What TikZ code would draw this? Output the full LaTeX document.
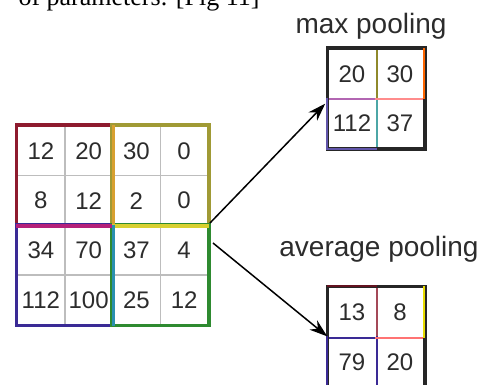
\documentclass[tikz,border=0pt]{standalone}
\usepackage{fontspec}
\setmainfont{Liberation Serif}
\newfontfamily\arialfont{Liberation Sans}
\usetikzlibrary{arrows.meta}

\definecolor{gridgray}{HTML}{BDBDBD}
\definecolor{numgray}{HTML}{2C2C2C}
\definecolor{tlred}{HTML}{8E1B2E}
\definecolor{tryellow}{HTML}{A09A35}
\definecolor{blblue}{HTML}{3A2A95}
\definecolor{brgreen}{HTML}{2E8A30}
\definecolor{mixmag}{HTML}{B5207A}
\definecolor{mixgold}{HTML}{D8A030}
\definecolor{mixlime}{HTML}{D8D030}
\definecolor{mixteal}{HTML}{2A8FB0}

\begin{document}
\begin{tikzpicture}[x=1pt, y=-1pt]

      \tikzset{cell/.style = {shape=rectangle,draw=gridgray,line width=1.5pt,minimum width=47.75pt,minimum height=49.75pt,inner sep=0pt,text=numgray,font=\arialfont\fontsize{24}{24}\selectfont}}
      \tikzset{pcell/.style = {cell,draw=none,minimum width=48pt}}
      \tikzset{quad/.style = {line width=3.5pt}}
      \tikzset{seg/.style = {line width=1.8pt}}
      \tikzset{edge/.style = {-{Stealth[length=18pt,width=12pt]},line width=1.5pt}}
      \tikzset{title/.style = {font=\arialfont\fontsize{28}{28}\selectfont,text=numgray,anchor=base}}
      \useasboundingbox (0,0) rectangle (491,385);

      % caption fragment
      \node[anchor=base west,font=\fontsize{26}{26}\selectfont] (caption) at (15,6) {of parameters. [Fig 11]};

      % input grid
      \foreach \r/\vals in {1/{12,20,30,0},2/{8,12,2,0},3/{34,70,37,4},4/{112,100,25,12}} {
        \foreach \v [count=\c] in \vals {
          \node[cell] (in\r\c) at ({17+47.75*(\c-0.5)},{126+49.75*(\r-0.5)}) {\v};
        }
      }
      \draw[quad,tlred]   (in11.north west) rectangle (in22.south east);
      \draw[quad,tryellow] (in13.north west) rectangle (in24.south east);
      \draw[quad,blblue]  (in31.north west) rectangle (in42.south east);
      \draw[quad,brgreen] (in33.north west) rectangle (in44.south east);
      \draw[quad,mixgold] (in12.north east) -- (in22.south east);
      \draw[quad,mixmag]  (in21.south west) -- (in22.south east);
      \draw[quad,mixlime] (in23.south west) -- (in24.south east);
      \draw[quad,mixteal] (in32.north east) -- (in42.south east);

      % max pooling
      \node[title] (maxlabel) at (371,34) {max pooling};
      \node[pcell] (mx11) at (352,73.75)  {20};
      \node[pcell] (mx12) at (400,73.75)  {30};
      \node[pcell] (mx21) at (352,123.25) {112};
      \node[pcell] (mx22) at (400,123.25) {37};
      \draw[seg,olive!70!gray]  (mx11.north east) -- (mx11.south east);
      \draw[seg,teal!70]        (mx21.north east) -- (mx21.south east);
      \draw[seg,violet!60]      (mx11.south west) -- (mx11.south east);
      \draw[seg,red!45]         (mx12.south west) -- (mx12.south east);
      \draw[quad,black!85]      (mx11.north west) rectangle (mx22.south east);
      \draw[seg,blblue!80]      (mx21.north west) -- (mx21.south west) -- (mx21.south east);
      \draw[seg,orange!80!red]  ([xshift=-1pt]mx12.north east) -- ([xshift=-1pt]mx12.south east);

      % average pooling
      \node[title] (avglabel) at (379,257) {average pooling};
      \node[pcell] (av11) at (352,312) {13};
      \node[pcell] (av12) at (400,312) {8};
      \node[pcell] (av21) at (352,362) {79};
      \node[pcell] (av22) at (400,362) {20};
      \draw[seg,tlred!80]       (av11.north east) -- (av11.south east);
      \draw[seg,blblue]         (av21.north east) -- (av21.south east);
      \draw[seg,blblue]         (av11.south west) -- (av11.south east);
      \draw[seg,red!55]         (av12.south west) -- (av12.south east);
      \draw[quad,black!85]      (av11.north west) rectangle (av22.south east);
      \draw[seg,tlred!70!black] (av11.north west) -- (av11.north east);
      \draw[seg,blblue]         (av21.north west) -- (av21.south west);
      \draw[seg,yellow!80!olive] ([xshift=-1pt]av12.north east) -- ([xshift=-1pt]av12.south east);

      %edges
      \coordinate (outup) at (210,223);
      \coordinate (outdn) at (213,243);
      \draw[edge] (outup) -- ([xshift=-2pt,yshift=-6pt]mx21.north west);
      \draw[edge] (outdn) -- (av21.north west);

\end{tikzpicture}
\end{document}
